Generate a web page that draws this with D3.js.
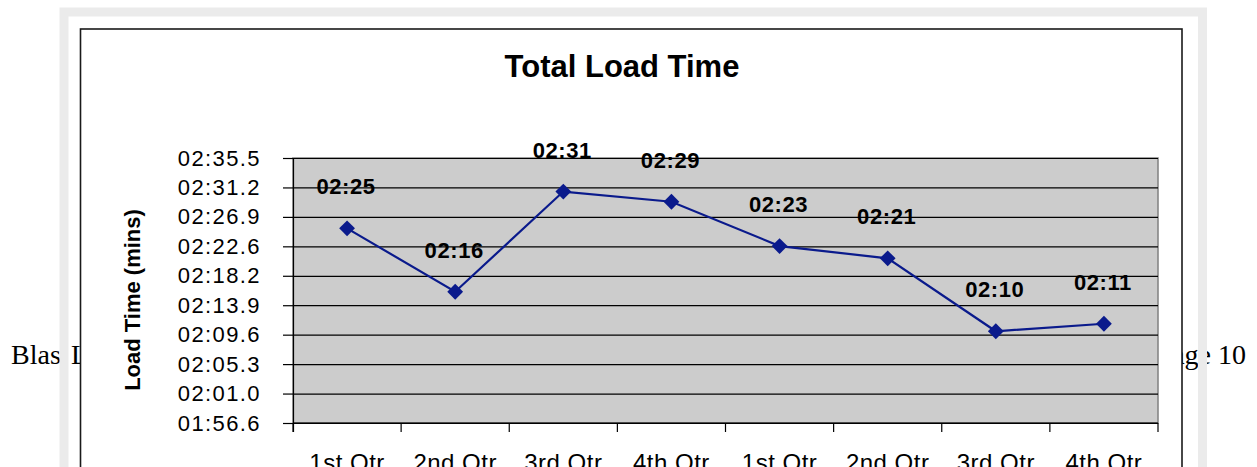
<!DOCTYPE html>
<html>
<head>
<meta charset="utf-8">
<script src="https://cdn.jsdelivr.net/npm/d3@7"></script>
<style>
  body { margin: 0; background: #fff; }
  svg { display: block; }
</style>
</head>
<body>
<script>
// data (load time in seconds)
const categories = ["1st Qtr", "2nd Qtr", "3rd Qtr", "4th Qtr", "1st Qtr", "2nd Qtr", "3rd Qtr", "4th Qtr"];
const loadSeconds = [145.2, 135.9, 150.6, 149.1, 142.6, 140.8, 130.1, 131.2];
const yTickSeconds = [116.64, 120.96, 125.28, 129.6, 133.92, 138.24, 142.56, 146.88, 151.2, 155.52];
const footerLeft = ["Blas", "L"];
const footerRight = "Page 10";

const w = 1257,
      h = 467;

const plot = { left: 293, right: 1158, top: 158, bottom: 423 };

const svg = d3.select("body")
  .append("svg")
  .attr("width", w)
  .attr("height", h);

// page footer text, partly hidden behind the chart
const foot = svg.append("g")
  .style("font-family", "'Liberation Serif', 'Times New Roman', serif")
  .style("font-size", "28px")
  .attr("fill", "#000");
foot.append("text").attr("x", 11).attr("y", 364).text(footerLeft[0]);
foot.append("text").attr("x", 71).attr("y", 364).text(footerLeft[1]);
foot.append("text").attr("x", 1246).attr("y", 364).attr("text-anchor", "end").text(footerRight);

// grey page frame
svg.append("rect")
  .attr("x", 64)
  .attr("y", 12)
  .attr("width", 1138.5)
  .attr("height", 600)
  .attr("fill", "none")
  .attr("stroke", "#ebebeb")
  .attr("stroke-width", 9);

// chart box
svg.append("rect")
  .attr("x", 80.5)
  .attr("y", 29)
  .attr("width", 1101.5)
  .attr("height", 600)
  .attr("fill", "#fff")
  .attr("stroke", "#1a1a1a")
  .attr("stroke-width", 1.6);

svg.append("text")
  .attr("x", 622)
  .attr("y", 77)
  .attr("text-anchor", "middle")
  .style("font-family", "Arial, 'Liberation Sans', sans-serif")
  .style("font-weight", "bold")
  .style("font-size", "31px")
  .text("Total Load Time");

const x = d3.scaleBand()
  .domain(d3.range(categories.length))
  .range([plot.left, plot.right])
  .padding(0);

const y = d3.scaleLinear()
  .domain([yTickSeconds[0], yTickSeconds[yTickSeconds.length - 1]])
  .range([plot.bottom, plot.top]);

const pad = n => String(n).padStart(2, "0");
const fmtTick = s => {
  const m = Math.floor(s / 60);
  const sec = (s - m * 60).toFixed(1);
  return pad(m) + ":" + sec.padStart(4, "0");
};
const fmtLabel = s => {
  const r = Math.round(s);
  return pad(Math.floor(r / 60)) + ":" + pad(r % 60);
};

// plot background
svg.append("rect")
  .attr("x", plot.left)
  .attr("y", plot.top)
  .attr("width", plot.right - plot.left)
  .attr("height", plot.bottom - plot.top)
  .attr("fill", "#cccccc")
  .attr("stroke", "#808080")
  .attr("stroke-width", 1.5);

// gridlines
svg.append("g")
  .attr("transform", "translate(" + plot.left + ",0)")
  .call(d3.axisLeft(y).tickValues(yTickSeconds).tickSize(-(plot.right - plot.left)).tickFormat(""))
  .call(g => g.select(".domain").remove())
  .call(g => g.selectAll("line").attr("stroke", "#000").attr("stroke-width", 1.2));

// y axis
svg.append("g")
  .attr("transform", "translate(" + plot.left + ",0)")
  .call(d3.axisLeft(y).tickValues(yTickSeconds).tickSize(10).tickPadding(22).tickFormat(fmtTick))
  .call(g => g.select(".domain").attr("stroke", "#000").attr("stroke-width", 1.2)
    .attr("d", "M0.5," + plot.top + "V" + (plot.bottom + 9)))
  .call(g => g.selectAll("line").attr("stroke", "#000").attr("stroke-width", 1.2))
  .call(g => g.selectAll("text")
    .style("font-family", "Arial, 'Liberation Sans', sans-serif")
    .style("font-size", "22px")
    .style("letter-spacing", "1.4px")
    .attr("fill", "#000"));

// x axis with ticks at category boundaries
const xAxis = svg.append("g");
xAxis.append("line")
  .attr("x1", plot.left).attr("x2", plot.right)
  .attr("y1", plot.bottom).attr("y2", plot.bottom)
  .attr("stroke", "#000").attr("stroke-width", 1.2);
xAxis.selectAll(".xtick")
  .data(d3.range(categories.length + 1))
  .join("line")
  .attr("class", "xtick")
  .attr("x1", i => i < categories.length ? x(i) : plot.right)
  .attr("x2", i => i < categories.length ? x(i) : plot.right)
  .attr("y1", plot.bottom)
  .attr("y2", plot.bottom + 9)
  .attr("stroke", "#000")
  .attr("stroke-width", 1.2);
xAxis.selectAll(".xlab")
  .data(categories)
  .join("text")
  .attr("class", "xlab")
  .attr("x", (d, i) => x(i) + x.bandwidth() / 2)
  .attr("y", 471)
  .attr("text-anchor", "middle")
  .style("font-family", "Arial, 'Liberation Sans', sans-serif")
  .style("font-size", "24px")
  .style("letter-spacing", "0.5px")
  .text(d => d);

// y axis title
svg.append("text")
  .attr("transform", "translate(140,300) rotate(-90)")
  .attr("text-anchor", "middle")
  .style("font-family", "Arial, 'Liberation Sans', sans-serif")
  .style("font-weight", "bold")
  .style("font-size", "22px")
  .text("Load Time (mins)");

// series
const cx = i => x(i) + x.bandwidth() / 2;

svg.append("path")
  .datum(loadSeconds)
  .attr("d", d3.line().x((d, i) => cx(i)).y(d => y(d)))
  .attr("fill", "none")
  .attr("stroke", "#0a1a8c")
  .attr("stroke-width", 2.2);

svg.selectAll(".marker")
  .data(loadSeconds)
  .join("path")
  .attr("class", "marker")
  .attr("d", d3.symbol(d3.symbolSquare, 125))
  .attr("transform", (d, i) => "translate(" + cx(i) + "," + y(d) + ") rotate(45)")
  .attr("fill", "#0a1a8c");

svg.selectAll(".dlabel")
  .data(loadSeconds)
  .join("text")
  .attr("class", "dlabel")
  .attr("x", (d, i) => cx(i) - 1)
  .attr("y", d => y(d) - 34)
  .attr("text-anchor", "middle")
  .style("font-family", "Arial, 'Liberation Sans', sans-serif")
  .style("font-weight", "bold")
  .style("font-size", "22px")
  .style("letter-spacing", "0.6px")
  .text(d => fmtLabel(d));
</script>
</body>
</html>
